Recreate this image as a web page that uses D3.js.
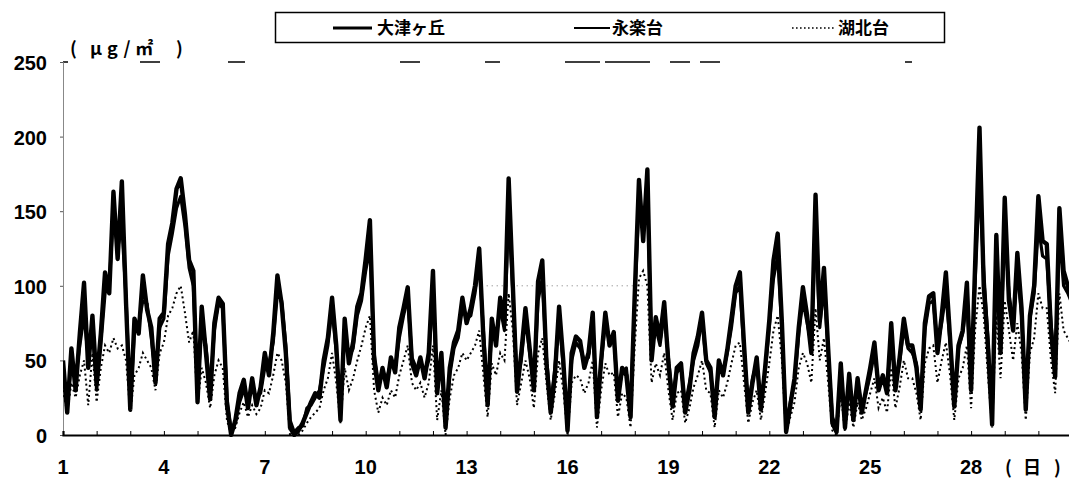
<!DOCTYPE html>
<html>
<head>
<meta charset="utf-8">
<script src="https://cdn.jsdelivr.net/npm/d3@7"></script>
<style>
  html, body { margin: 0; padding: 0; background: #fff; }
  svg { display: block; }
  .num { font-family: "Liberation Sans", Arial, sans-serif; font-weight: bold; font-size: 20px; fill: #000; }
  .jp { font-family: "Noto Sans CJK JP", "Noto Sans", sans-serif; font-weight: bold; fill: #000; }
</style>
</head>
<body>
<svg id="chart" width="1069" height="478"></svg>
<script>
// Hourly-averaged concentration, sampled every 3 hours (8 samples per day), from day 1
const samplesPerDay = 8;
const startDay = 1;

const otsugaoka = [
  50, 15, 58, 30, 68, 102, 45, 80,
  35, 68, 109, 95, 163, 118, 170, 88,
  17, 78, 68, 107, 84, 72, 35, 78,
  82, 128, 142, 165, 172, 148, 117, 110,
  22, 86, 55, 24, 75, 92, 88, 20,
  0, 10, 28, 37, 18, 38, 20, 32,
  55, 40, 68, 107, 88, 55, 5, 0,
  3, 8, 15, 22, 28, 25, 50, 65, 92,
  60, 10, 78, 48, 62, 86, 95, 118,
  144, 50, 30, 45, 32, 52, 42, 72,
  85, 99, 48, 40, 52, 38, 55, 110,
  28, 55, 5, 45, 62, 70, 92, 75,
  85, 100, 125, 65, 20, 78, 60, 92,
  75, 172, 100, 29, 55, 85, 58, 30,
  103, 117, 48, 15, 40, 86, 50, 3,
  55, 66, 63, 45, 55, 82, 12, 50,
  82, 60, 69, 23, 45, 40, 12, 95,
  171, 130, 178, 50, 79, 65, 89, 48,
  19, 45, 48, 15, 30, 55, 66, 82,
  50, 45, 12, 50, 40, 57, 78, 100,
  109, 60, 15, 35, 52, 17, 45, 77,
  117, 135, 75, 2, 20, 38, 72, 99,
  80, 55, 161, 77, 112, 58, 8, 2,
  48, 5, 41, 10, 38, 15, 30, 45, 62,
  30, 40, 28, 75, 30, 52, 78, 60,
  60, 45, 17, 75, 93, 95, 55, 80,
  109, 65, 19, 60, 70, 102, 30, 118,
  206, 100, 60, 7, 134, 55, 159, 90,
  70, 122, 85, 17, 80, 100, 160, 130,
  128, 70, 39, 152, 110, 100, 90, 85
];

const eirakudai = [
  42, 22, 48, 38, 60, 80, 52, 70,
  30, 60, 95, 100, 150, 125, 140, 92,
  20, 70, 75, 90, 88, 65, 40, 72,
  78, 120, 135, 152, 160, 140, 112, 100,
  30, 75, 60, 30, 70, 88, 85, 25,
  3, 8, 22, 30, 25, 30, 25, 28,
  45, 48, 62, 95, 90, 60, 10, 2,
  5, 6, 18, 20, 25, 30, 45, 60, 85,
  55, 18, 70, 52, 58, 80, 90, 110,
  125, 55, 35, 40, 38, 48, 45, 65,
  80, 92, 52, 45, 48, 42, 50, 95,
  30, 50, 10, 40, 58, 65, 85, 78,
  80, 95, 115, 70, 25, 70, 65, 85,
  70, 150, 95, 35, 50, 78, 55, 35,
  90, 105, 52, 20, 45, 80, 45, 8,
  50, 62, 58, 50, 52, 75, 18, 48,
  75, 62, 65, 28, 42, 45, 18, 90,
  155, 140, 160, 58, 72, 60, 82, 52,
  25, 42, 45, 20, 35, 50, 60, 78,
  48, 42, 18, 45, 42, 55, 72, 95,
  100, 55, 20, 38, 48, 22, 42, 72,
  105, 120, 70, 5, 22, 35, 68, 90,
  75, 60, 140, 72, 100, 55, 12, 5,
  42, 10, 35, 15, 35, 20, 28, 40, 55,
  35, 38, 32, 68, 35, 48, 72, 58,
  55, 48, 22, 70, 88, 90, 60, 75,
  95, 62, 25, 58, 68, 92, 35, 105,
  170, 110, 65, 12, 120, 60, 140, 95,
  75, 110, 80, 22, 78, 95, 140, 120,
  118, 75, 45, 135, 100, 95, 88, 80
];

const kohokudai = [
  30, 15, 35, 25, 40, 50, 20, 55,
  22, 45, 60, 55, 65, 58, 60, 50,
  15, 40, 45, 55, 50, 45, 30, 55,
  62, 80, 85, 95, 100, 82, 62, 70,
  20, 45, 35, 18, 40, 50, 45, 10,
  0, 5, 15, 22, 12, 20, 14, 18,
  30, 28, 40, 55, 50, 35, 0, 0,
  0, 3, 8, 12, 15, 18, 30, 38, 55,
  35, 8, 45, 30, 38, 50, 60, 72,
  80, 30, 15, 25, 20, 30, 25, 40,
  50, 60, 35, 30, 35, 25, 35, 60,
  10, 30, 0, 25, 40, 45, 55, 50,
  55, 60, 70, 40, 12, 48, 40, 55,
  50, 95, 70, 20, 35, 50, 38, 18,
  55, 65, 35, 10, 28, 50, 30, 0,
  35, 40, 38, 28, 35, 50, 5, 30,
  48, 40, 42, 12, 28, 25, 5, 60,
  105, 110, 100, 35, 48, 40, 55, 30,
  10, 28, 30, 8, 18, 32, 40, 50,
  30, 28, 5, 30, 25, 35, 48, 60,
  62, 35, 8, 22, 30, 10, 28, 48,
  70, 80, 50, 0, 12, 22, 45, 55,
  48, 35, 85, 50, 65, 35, 3, 0,
  28, 2, 22, 5, 22, 10, 18, 28, 38,
  18, 25, 15, 45, 18, 32, 50, 38,
  38, 28, 10, 48, 58, 60, 35, 50,
  62, 40, 10, 38, 45, 60, 18, 72,
  100, 80, 40, 5, 80, 38, 90, 70,
  50, 75, 55, 10, 55, 65, 95, 85,
  85, 50, 28, 95, 70, 65, 60, 55
];

const yTicks = [0, 50, 100, 150, 200, 250];
const xTickLabels = [1, 4, 7, 10, 13, 16, 19, 22, 25, 28];
const dayTicks = d3.range(1, 31);
const legendNames = ["大津ヶ丘", "永楽台", "湖北台"];

(function draw() {
  const svg = d3.select("#chart");
  const W = 1069;
  const plotLeft = 63, plotBottom = 435, plotTop = 62, plotRight = 1072;

  const x = d3.scaleLinear().domain([1, 31]).range([plotLeft, plotRight]);
  const y = d3.scaleLinear().domain([0, 250]).range([plotBottom, plotTop]);

  // clip for the series
  svg.append("defs").append("clipPath").attr("id", "plotClip")
    .append("rect").attr("x", plotLeft).attr("y", 0)
    .attr("width", W - plotLeft).attr("height", plotBottom + 2);

  // top frame, broken
  svg.append("line")
    .attr("x1", plotLeft).attr("x2", W).attr("y1", y(250)).attr("y2", y(250))
    .attr("stroke", "#000").attr("stroke-width", 1.4)
    .attr("stroke-dasharray", "5,72,20,68,17,155,20,65,15,65,35,5,45,20,20,10,20,185,7,400");

  // faint dotted guide at 100
  svg.append("line")
    .attr("x1", x(13.3)).attr("x2", x(18.3)).attr("y1", y(100)).attr("y2", y(100))
    .attr("stroke", "#777").attr("stroke-width", 1).attr("stroke-dasharray", "1,4");

  // y axis
  const yAxis = d3.axisLeft(y).tickValues(yTicks).tickSize(3).tickFormat("");
  const gy = svg.append("g").attr("transform", `translate(${plotLeft},0)`).call(yAxis);
  gy.select(".domain").attr("stroke", "#888").attr("stroke-width", 1);
  gy.selectAll(".tick line").attr("stroke", "#555");

  svg.append("g").attr("class", "y-labels").selectAll("text").data(yTicks).join("text")
    .attr("class", "num")
    .attr("x", 47).attr("y", d => y(d) + 8)
    .attr("text-anchor", "end")
    .text(d => d);

  // x axis with daily ticks pointing up
  const xAxis = d3.axisBottom(x).tickValues(dayTicks).tickSize(-4).tickFormat("");
  const gx = svg.append("g").attr("transform", `translate(0,${plotBottom})`).call(xAxis);
  gx.select(".domain").attr("stroke", "#000").attr("stroke-width", 2.2);
  gx.selectAll(".tick line").attr("stroke", "#000").attr("stroke-width", 1);

  svg.append("g").attr("class", "x-labels").selectAll("text").data(xTickLabels).join("text")
    .attr("class", "num")
    .attr("x", d => x(d)).attr("y", 474)
    .attr("text-anchor", "middle")
    .text(d => String(d));

  // unit labels
  const unit = svg.append("text").attr("class", "jp").attr("y", 55).style("font-size", "18px");
  unit.append("tspan").attr("x", 70).text("(");
  unit.append("tspan").attr("x", 90).style("letter-spacing", "5px").text("μg/㎡");
  unit.append("tspan").attr("x", 176).text(")");

  const dayUnit = svg.append("text").attr("class", "jp").attr("y", 474).style("font-size", "18px");
  dayUnit.append("tspan").attr("x", 1005).text("(");
  dayUnit.append("tspan").attr("x", 1023).text("日");
  dayUnit.append("tspan").attr("x", 1054).text(")");

  // series
  const lineGen = d3.line()
    .x((d, i) => x(startDay + i / samplesPerDay))
    .y(d => y(d));

  const plot = svg.append("g").attr("clip-path", "url(#plotClip)");

  plot.append("path").datum(kohokudai)
    .attr("fill", "none").attr("stroke", "#000").attr("stroke-width", 2)
    .attr("stroke-dasharray", "2,3").attr("d", lineGen);

  plot.append("path").datum(eirakudai)
    .attr("fill", "none").attr("stroke", "#000").attr("stroke-width", 3.2)
    .attr("stroke-linejoin", "round").attr("d", lineGen);

  plot.append("path").datum(otsugaoka)
    .attr("fill", "none").attr("stroke", "#000").attr("stroke-width", 4.4)
    .attr("stroke-linejoin", "round").attr("d", lineGen);

  // legend
  const lg = svg.append("g");
  lg.append("rect").attr("x", 275.5).attr("y", 12.5).attr("width", 669).attr("height", 30)
    .attr("fill", "#fff").attr("stroke", "#000").attr("stroke-width", 1.5);

  const legendItems = [
    { name: legendNames[0], x1: 333, x2: 372, tx: 377, w: 3, dash: null },
    { name: legendNames[1], x1: 574, x2: 610, tx: 612, w: 2, dash: null },
    { name: legendNames[2], x1: 792, x2: 835, tx: 838, w: 1.6, dash: "1.6,2.4" }
  ];
  legendItems.forEach(it => {
    lg.append("line").attr("x1", it.x1).attr("x2", it.x2).attr("y1", 28).attr("y2", 28)
      .attr("stroke", "#000").attr("stroke-width", it.w)
      .attr("stroke-dasharray", it.dash);
    lg.append("text").attr("class", "jp").attr("x", it.tx).attr("y", 34)
      .style("font-size", "17px").text(it.name);
  });
})();
</script>
</body>
</html>
